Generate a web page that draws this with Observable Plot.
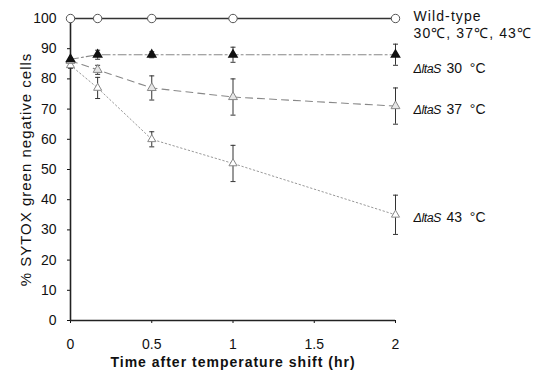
<!DOCTYPE html>
<html><head><meta charset="utf-8">
<script src="https://cdn.jsdelivr.net/npm/d3@7"></script>
<script src="https://cdn.jsdelivr.net/npm/@observablehq/plot@0.6"></script>
<style>
html,body{margin:0;padding:0;background:#fff;}
svg{font-family:"Liberation Sans",Arial,sans-serif;}
g[aria-label="x-axis label"] text{font-weight:bold;font-size:14px;letter-spacing:1px;}
g[aria-label="y-axis label"] text{font-size:15px;letter-spacing:1px;}
text[aria-label="wt label"]{letter-spacing:1.1px;}
text[aria-label="mut prefix"]{letter-spacing:-0.5px;}
g[aria-label="tick label"] text{font-size:14px;}
</style></head>
<body><div id="chart"></div>
<script>
const times = [0, 0.167, 0.5, 1, 2];
const wildType = [100, 100, 100, 100, 100];
const ltaS30 = [86.5, 88, 88, 88, 88];
const ltaS30Err = [0, 1.5, 1, 2.5, 3.5];
const ltaS37 = [86, 83, 77, 74, 71];
const ltaS37Err = [1, 1.5, 4, 6, 6];
const ltaS43 = [84.5, 77, 60, 52, 35];
const ltaS43Err = [1, 3.5, 2.5, 6, 6.5];
const xTicks = [0, 0.5, 1, 1.5, 2];
const yTicks = [0, 10, 20, 30, 40, 50, 60, 70, 80, 90, 100];
const wtLabel = ["Wild-type", "30\u2103, 37\u2103, 43\u2103"];
const wtLabelY = [100.7, 94.9];
const mutPrefix = ["\u0394ltaS", "\u0394ltaS", "\u0394ltaS"];
const mutSuffix = ["30\u00A0\u00A0\u00B0C", "37\u00A0\u00A0\u00B0C", "43\u00A0\u00A0\u00B0C"];
const mutLabelY = [83.3, 69.8, 34];

const rows = (vals, errs, s) => times.map((t, i) => ({t, v: vals[i], e: errs ? errs[i] : 0, s}));
const wt = rows(wildType, null, "wt");
const m30 = rows(ltaS30, ltaS30Err, "30");
const m37 = rows(ltaS37, ltaS37Err, "37");
const m43 = rows(ltaS43, ltaS43Err, "43");
const errRows = [...m30, ...m37, ...m43].filter(d => d.e > 0);

const cap = {draw(ctx, size) { const r = 2.5; ctx.moveTo(-r, 0); ctx.lineTo(r, 0); }};

const chart = Plot.plot({
  width: 541, height: 376,
  marginLeft: 70, marginRight: 146, marginTop: 18, marginBottom: 56,
  style: {fontSize: "14px", fontFamily: "Liberation Sans, Arial, sans-serif", color: "#111"},
  x: {domain: [0, 2], ticks: xTicks, tickFormat: d => String(d), tickSize: 3, tickPadding: 16,
      label: "Time after temperature shift (hr)", labelArrow: false, labelAnchor: "center", labelOffset: 46},
  y: {domain: [0, 100], ticks: yTicks, tickSize: 3, tickPadding: 11,
      label: "% SYTOX green negative cells", labelArrow: false, labelAnchor: "center", labelOffset: 50},
  marks: [
    // error bars
    Plot.ruleX(errRows, {x: "t", y1: d => d.v - d.e, y2: d => d.v + d.e, stroke: "#333", strokeWidth: 1}),
    Plot.dot(errRows, {x: "t", y: d => d.v + d.e, symbol: cap, stroke: "#333", strokeWidth: 1}),
    Plot.dot(errRows, {x: "t", y: d => d.v - d.e, symbol: cap, stroke: "#333", strokeWidth: 1}),
    // lines
    Plot.line(m43, {x: "t", y: "v", stroke: "#999", strokeWidth: 1, strokeDasharray: "1.5,2.5"}),
    Plot.line(m37, {x: "t", y: "v", stroke: "#888", strokeWidth: 1.1, strokeDasharray: "7,5"}),
    Plot.line(m30, {x: "t", y: "v", stroke: "#888", strokeWidth: 1.1, strokeDasharray: "8,3,2,3"}),
    Plot.line(wt, {x: "t", y: "v", stroke: "#333", strokeWidth: 1.3}),
    // axes lines
    Plot.ruleY([0], {stroke: "#222", strokeWidth: 1.6}),
    Plot.ruleX([0], {stroke: "#222", strokeWidth: 1.6}),
    // markers
    Plot.dot(m43, {x: "t", y: "v", symbol: "triangle", r: 3, stroke: "#888", fill: "white", strokeWidth: 1}),
    Plot.dot(m37, {x: "t", y: "v", symbol: "triangle", r: 3.3, stroke: "#888", fill: "#e6e6e6", strokeWidth: 1}),
    Plot.dot(m30, {x: "t", y: "v", symbol: "triangle", r: 3, stroke: "#111", fill: "#111"}),
    Plot.dot(wt, {x: "t", y: "v", symbol: "circle", r: 4.2, stroke: "#555", fill: "white", strokeWidth: 1}),
    // labels
    Plot.text(wtLabel, {x: () => 2, y: (d, i) => wtLabelY[i], text: d => d, textAnchor: "start", dx: 18, fontSize: 14, fill: "#111", ariaLabel: () => "wt label"}),
    Plot.text(mutPrefix, {x: () => 2, y: (d, i) => mutLabelY[i], text: d => d, textAnchor: "start", dx: 18, fontSize: 12.5, fontStyle: "italic", fill: "#111", ariaLabel: () => "mut prefix"}),
    Plot.text(mutSuffix, {x: () => 2, y: (d, i) => mutLabelY[i], text: d => d, textAnchor: "start", dx: 51, fontSize: 14, fill: "#111"})
  ]
});
document.getElementById("chart").appendChild(chart);
</script></body></html>
